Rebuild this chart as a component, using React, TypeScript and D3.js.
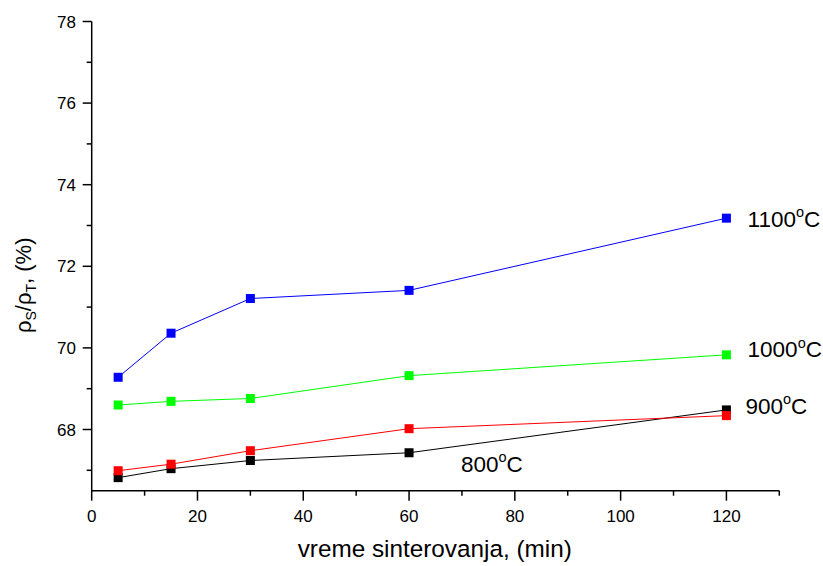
import React from "react";
import * as d3 from "d3";

const times = [5, 15, 30, 60, 120];
const s800 = [66.82, 67.04, 67.24, 67.43, 68.48];
const s900 = [66.99, 67.15, 67.48, 68.02, 68.34];
const s1000 = [68.6, 68.69, 68.76, 69.32, 69.83];
const s1100 = [69.28, 70.36, 71.21, 71.41, 73.18];

const seriesNames = ["800", "900", "1000", "1100"];
const seriesValues = [s800, s900, s1000, s1100];
const seriesColors = ["#000000", "#ff0000", "#00ff00", "#0000ff"];

const xMajorTicks = [0, 20, 40, 60, 80, 100, 120];
const xMinorTicks = [10, 30, 50, 70, 90, 110, 130];
const yMajorTicks = [68, 70, 72, 74, 76, 78];
const yMinorTicks = [67, 69, 71, 73, 75, 77];

// annotation anchors in data units
const labelTemps = ["1100", "1000", "900", "800"];
const labelX = [124.0, 124.0, 123.6, 69.8];
const labelY = [72.97, 69.77, 68.39, 66.96];

const W = 823;
const H = 566;

export default function App() {
  const x = d3.scaleLinear().domain([0, 130]).range([91.7, 779.3]);
  const y = d3.scaleLinear().domain([66.5, 78]).range([490.7, 21.5]);
  const line = d3
    .line<number>()
    .x((_, i) => x(times[i]))
    .y((d) => y(d));
  const font = "Arial, 'Liberation Sans', Helvetica, sans-serif";
  const ms = 9;
  const x0 = x(0);
  const yb = y(66.5);

  return (
    <svg
      width={W}
      height={H}
      style={{ position: "absolute", left: 0, top: 0, background: "#fff" }}
      fontFamily={font}
    >
      <rect width={W} height={H} fill="#fff" />
      {/* series */}
      {seriesValues.map((vals, si) => (
        <g key={seriesNames[si]}>
          <path d={line(vals) || ""} fill="none" stroke={seriesColors[si]} strokeWidth={1} />
          {vals.map((v, i) => (
            <rect
              key={i}
              x={x(times[i]) - ms / 2}
              y={y(v) - ms / 2}
              width={ms}
              height={ms}
              fill={seriesColors[si]}
            />
          ))}
        </g>
      ))}
      {/* axes */}
      <g stroke="#000" strokeWidth={1.5}>
        <line x1={x0} x2={x0} y1={y(78)} y2={yb + 0.75} />
        <line x1={x0} x2={x(130)} y1={yb} y2={yb} />
        {xMajorTicks.map((t) => (
          <line key={"xm" + t} x1={x(t)} x2={x(t)} y1={yb} y2={yb + 10} />
        ))}
        {xMinorTicks.map((t) => (
          <line key={"xn" + t} x1={x(t)} x2={x(t)} y1={yb} y2={yb + 5} />
        ))}
        {yMajorTicks.map((t) => (
          <line key={"ym" + t} x1={x0 - 9} x2={x0} y1={y(t)} y2={y(t)} />
        ))}
        {yMinorTicks.map((t) => (
          <line key={"yn" + t} x1={x0 - 5} x2={x0} y1={y(t)} y2={y(t)} />
        ))}
      </g>
      <g fontSize={17} fill="#000">
        {xMajorTicks.map((t) => (
          <text key={"xl" + t} x={x(t)} y={522} textAnchor="middle">
            {t}
          </text>
        ))}
        {yMajorTicks.map((t) => (
          <text key={"yl" + t} x={76} y={y(t) + 6} textAnchor="end">
            {t}
          </text>
        ))}
      </g>
      {/* axis titles */}
      <text x={x(0) + 206} y={557} fontSize={24.3} fill="#000">
        vreme sinterovanja, (min)
      </text>
      <text
        transform={`translate(31,333) rotate(-90)`}
        fontSize={22}
        fill="#000"
      >
        ρ<tspan fontSize={14} dy={4.5}>S</tspan>
        <tspan dy={-4.5}>/ρ</tspan>
        <tspan fontSize={14} dy={4.5}>T</tspan>
        <tspan dy={-4.5}>, (%)</tspan>
      </text>
      {/* temperature labels */}
      {labelTemps.map((t, i) => (
        <text key={"t" + t} x={x(labelX[i])} y={y(labelY[i])} fontSize={22.5} fill="#000">
          {t}
          <tspan fontSize={14.5} dy={-9.5}>o</tspan>
          <tspan dy={9.5}>C</tspan>
        </text>
      ))}
    </svg>
  );
}
